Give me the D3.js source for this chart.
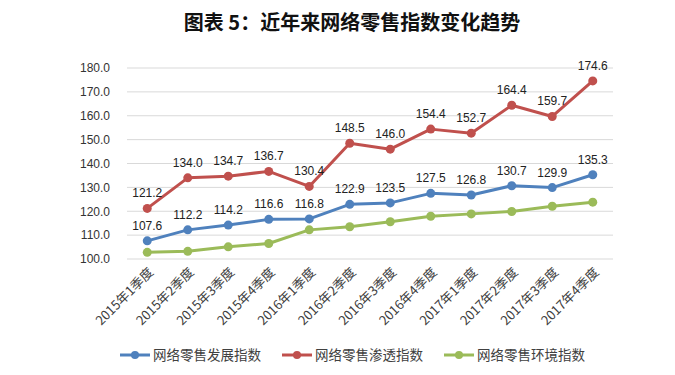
<!DOCTYPE html>
<html>
<head>
<meta charset="utf-8">
<script src="https://cdn.jsdelivr.net/npm/d3@7"></script>
<style>
  body { margin: 0; background: #fff; }
  svg text { font-family: "Liberation Sans", Arial, sans-serif; }
  .title { font-family: "Noto Sans CJK SC", sans-serif; font-weight: bold; }
  .cjk { font-family: "Noto Sans CJK SC", sans-serif; }
</style>
</head>
<body>
<div id="chart"></div>
<script>
const categories = [
  '2015年1季度', '2015年2季度', '2015年3季度', '2015年4季度',
  '2016年1季度', '2016年2季度', '2016年3季度', '2016年4季度',
  '2017年1季度', '2017年2季度', '2017年3季度', '2017年4季度'
];
const developValues = [107.6, 112.2, 114.2, 116.6, 116.8, 122.9, 123.5, 127.5, 126.8, 130.7, 129.9, 135.3];
const penetrateValues = [121.2, 134.0, 134.7, 136.7, 130.4, 148.5, 146.0, 154.4, 152.7, 164.4, 159.7, 174.6];
const environmentValues = [102.8, 103.2, 105.1, 106.5, 112.2, 113.5, 115.6, 117.9, 118.9, 119.9, 122.1, 123.8];
const yTicks = [100, 110, 120, 130, 140, 150, 160, 170, 180];

const series = [
  { name: '网络零售发展指数', values: developValues, color: '#4f81bd', labels: true },
  { name: '网络零售渗透指数', values: penetrateValues, color: '#c0504d', labels: true },
  { name: '网络零售环境指数', values: environmentValues, color: '#9bbb59', labels: false }
];

const width = 675;
const height = 375;
const margin = { top: 68, right: 62, bottom: 116, left: 127 };
const innerW = width - margin.left - margin.right;
const innerH = height - margin.top - margin.bottom;

const svg = d3.select('#chart')
  .append('svg')
  .attr('width', width)
  .attr('height', height);

// title
svg.append('text')
  .attr('class', 'title')
  .attr('x', 352)
  .attr('y', 30)
  .attr('text-anchor', 'middle')
  .style('font-size', '20px')
  .attr('fill', '#111')
  .text('图表 5：近年来网络零售指数变化趋势');

const g = svg.append('g')
  .attr('transform', `translate(${margin.left}, ${margin.top})`);

const xScale = d3.scaleBand().domain(categories).range([0, innerW]);
const yScale = d3.scaleLinear().domain([100, 180]).range([innerH, 0]);

// gridlines
g.append('g')
  .selectAll('line')
  .data(yTicks)
  .join('line')
  .attr('x1', 0)
  .attr('x2', innerW)
  .attr('y1', (d) => yScale(d))
  .attr('y2', (d) => yScale(d))
  .attr('stroke', '#d9d9d9')
  .attr('stroke-width', 1);

// y axis
const yAxis = d3.axisLeft(yScale)
  .tickValues(yTicks)
  .tickFormat(d3.format('.1f'))
  .tickSize(0)
  .tickPadding(17);

g.append('g')
  .attr('class', 'y axis')
  .call(yAxis)
  .call((a) => a.select('.domain').remove())
  .selectAll('text')
  .style('font-size', '12px')
  .attr('fill', '#333');

// x axis
const xAxis = d3.axisBottom(xScale).tickSize(0).tickPadding(0);
g.append('g')
  .attr('class', 'x axis')
  .attr('transform', `translate(0, ${innerH})`)
  .call(xAxis)
  .call((a) => a.select('.domain').remove())
  .selectAll('text')
  .attr('class', 'cjk')
  .style('font-size', '13px')
  .attr('fill', '#404040')
  .attr('dy', 0)
  .attr('transform', 'translate(7, 14) rotate(-45)')
  .style('text-anchor', 'end');

const cx = (i) => xScale(categories[i]) + xScale.bandwidth() / 2;

const line = d3.line()
  .x((d, i) => cx(i))
  .y((d) => yScale(d));

series.forEach((s) => {
  g.append('path')
    .datum(s.values)
    .attr('fill', 'none')
    .attr('stroke', s.color)
    .attr('stroke-width', 3)
    .attr('stroke-linejoin', 'round')
    .attr('d', line);

  g.append('g')
    .selectAll('circle')
    .data(s.values)
    .join('circle')
    .attr('cx', (d, i) => cx(i))
    .attr('cy', (d) => yScale(d))
    .attr('r', 4.5)
    .attr('fill', s.color);

  if (s.labels) {
    g.append('g')
      .selectAll('text')
      .data(s.values)
      .join('text')
      .attr('x', (d, i) => cx(i))
      .attr('y', (d) => yScale(d) - 11)
      .attr('text-anchor', 'middle')
      .style('font-size', '12px')
      .attr('fill', '#222')
      .text((d) => d3.format('.1f')(d));
  }
});

// legend
const legendX = [120, 282, 444];
const legend = svg.append('g').attr('transform', 'translate(0, 355)');
series.forEach((s, i) => {
  const lg = legend.append('g').attr('transform', `translate(${legendX[i]}, 0)`);
  lg.append('line')
    .attr('x1', 0).attr('x2', 30)
    .attr('y1', 0).attr('y2', 0)
    .attr('stroke', s.color)
    .attr('stroke-width', 3);
  lg.append('circle')
    .attr('cx', 15).attr('cy', 0).attr('r', 4)
    .attr('fill', s.color);
  lg.append('text')
    .attr('class', 'cjk')
    .attr('x', 33)
    .attr('y', 5)
    .style('font-size', '13.5px')
    .attr('fill', '#404040')
    .text(s.name);
});
</script>
</body>
</html>
